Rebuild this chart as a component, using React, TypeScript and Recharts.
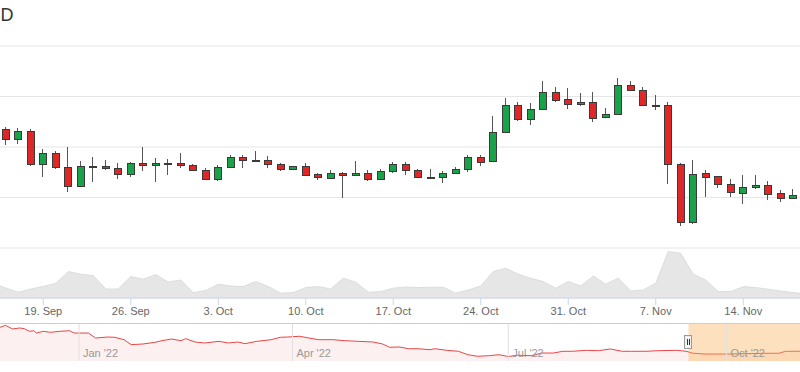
import React from 'react'
import { ComposedChart, Bar, Area, XAxis, YAxis, CartesianGrid, ReferenceLine, ReferenceArea } from 'recharts'

// daily candles, 15 Sep 2022 .. 19 Nov 2022
const firstDay = '2022-09-15'
const open = [1638, 1470, 1430, 1464, 1331, 1376, 1320, 1245, 1325, 1325, 1317, 1294, 1335, 1328, 1335, 1337,
  1329, 1310, 1274, 1320, 1360, 1350, 1350, 1331, 1313, 1324, 1292, 1279, 1298, 1288, 1296, 1274, 1304,
  1331, 1310, 1282, 1282, 1297, 1312, 1360, 1343, 1458, 1566, 1512, 1549, 1617, 1589,
  1569, 1577, 1518, 1529, 1644, 1625, 1565, 1565, 1331, 1104, 1296, 1284, 1253, 1219, 1242, 1249, 1217, 1197, 1210]
const high = [1648, 1479, 1474, 1470, 1392, 1383, 1401, 1343, 1359, 1348, 1335, 1339, 1401, 1355, 1351, 1375,
  1334, 1318, 1330, 1367, 1368, 1385, 1363, 1335, 1326, 1335, 1298, 1309, 1301, 1344, 1309, 1314, 1339,
  1339, 1314, 1312, 1306, 1321, 1370, 1370, 1523, 1594, 1577, 1574, 1663, 1636, 1632,
  1613, 1619, 1554, 1672, 1663, 1636, 1607, 1577, 1335, 1348, 1309, 1286, 1273, 1288, 1288, 1265, 1230, 1234, 1226]
const low = [1459, 1408, 1412, 1326, 1282, 1314, 1223, 1242, 1263, 1309, 1272, 1282, 1305, 1260, 1289, 1316,
  1305, 1272, 1267, 1320, 1318, 1349, 1318, 1305, 1309, 1290, 1269, 1279, 1199, 1288, 1267, 1274, 1298,
  1289, 1282, 1274, 1256, 1297, 1302, 1326, 1339, 1458, 1504, 1487, 1549, 1577, 1549,
  1564, 1500, 1518, 1529, 1621, 1565, 1546, 1252, 1087, 1095, 1203, 1236, 1203, 1174, 1234, 1190, 1183, 1197, 1200]
const close = [1472, 1432, 1464, 1331, 1376, 1320, 1245, 1325, 1326, 1316, 1293, 1335, 1328, 1335, 1335, 1328,
  1309, 1274, 1322, 1362, 1348, 1350, 1331, 1313, 1324, 1290, 1280, 1296, 1288, 1296, 1274, 1306, 1333,
  1310, 1282, 1282, 1298, 1313, 1362, 1342, 1458, 1566, 1512, 1550, 1618, 1586, 1569,
  1577, 1516, 1530, 1644, 1625, 1565, 1565, 1331, 1104, 1293, 1282, 1253, 1220, 1243, 1251, 1215, 1198, 1210, 1218]
// traded volume, billions USD
const volume = [7.3, 5.0, 2.9, 4.5, 5.8, 7.3, 13.2, 11.9, 11.2, 4.5, 4.5, 10.7, 9.4, 11.7, 8.0, 9.0,
  2.7, 3.7, 6.9, 6.0, 5.7, 8.2, 5.7, 2.4, 2.7, 5.2, 5.7, 4.5, 9.9, 7.9, 2.9, 3.2, 4.9,
  5.5, 5.2, 5.4, 5.4, 2.4, 4.0, 6.0, 13.2, 14.9, 11.9, 9.9, 8.2, 4.9, 8.2,
  6.0, 11.0, 6.9, 9.9, 3.5, 4.0, 7.4, 23.2, 22.4, 11.9, 9.0, 3.2, 3.2, 5.7, 5.2, 4.4, 3.5, 2.7, 2.0]
const weekTicks = ['2022-09-19', '2022-09-26', '2022-10-03', '2022-10-10', '2022-10-17', '2022-10-24',
  '2022-10-31', '2022-11-07', '2022-11-14']
const priceTicks = [1000, 1200, 1400, 1600, 1800]

// navigator: close over the whole year
const navDates = ['2021-11-28', '2021-12-01', '2021-12-04', '2021-12-07', '2021-12-09', '2021-12-11', '2021-12-13',
  '2021-12-14', '2021-12-17', '2021-12-20', '2021-12-24', '2021-12-28', '2021-12-30', '2022-01-01', '2022-01-05',
  '2022-01-08', '2022-01-13', '2022-01-16', '2022-01-20', '2022-01-23', '2022-01-28', '2022-02-02', '2022-02-05',
  '2022-02-09', '2022-02-13', '2022-02-15', '2022-02-19', '2022-02-23', '2022-03-01', '2022-03-05', '2022-03-09',
  '2022-03-12', '2022-03-17', '2022-03-23', '2022-03-27', '2022-03-30', '2022-04-04', '2022-04-08', '2022-04-12',
  '2022-04-18', '2022-04-23', '2022-04-29', '2022-05-05', '2022-05-09', '2022-05-12', '2022-05-16', '2022-05-20',
  '2022-05-24', '2022-05-29', '2022-05-31', '2022-06-05', '2022-06-10', '2022-06-14', '2022-06-18', '2022-06-23',
  '2022-06-27', '2022-07-01', '2022-07-05', '2022-07-11', '2022-07-15', '2022-07-20', '2022-07-24', '2022-07-28',
  '2022-08-03', '2022-08-08', '2022-08-13', '2022-08-18', '2022-08-22', '2022-08-28', '2022-09-02', '2022-09-10',
  '2022-09-14', '2022-09-17', '2022-09-22', '2022-10-01', '2022-10-09', '2022-10-17', '2022-10-23', '2022-10-26',
  '2022-11-01', '2022-11-05', '2022-11-09', '2022-11-14', '2022-11-19']
const navClose = [4400, 4720, 4280, 4400, 4310, 4000, 4070,
  3790, 4000, 3880, 4000, 4070, 3790, 3790, 3790,
  3190, 3310, 3280, 2990, 2390, 2470, 2670, 2870,
  3070, 2870, 3110, 2710, 2590, 2790, 2590, 2710,
  2510, 2790, 2990, 3280, 3310, 3400, 3190, 2990,
  2990, 2870, 2790, 2710, 2470, 2070, 2110, 1900,
  1900, 1780, 1900, 1710, 1590, 1180, 990, 1060,
  1180, 960, 1110, 1060, 1380, 1380, 1590, 1590,
  1710, 1660, 1870, 1590, 1590, 1590, 1660, 1710,
  1590, 1350, 1260, 1260, 1300, 1350, 1350, 1590,
  1590, 1630, 1100, 1240, 1220]
const navMonthDates = ['2022-01-01', '2022-04-01', '2022-07-01', '2022-10-01']
const navMonthLabels = ["Jan '22", "Apr '22", "Jul '22", "Oct '22"]

const MONTHS = ['Jan', 'Feb', 'Mar', 'Apr', 'May', 'Jun', 'Jul', 'Aug', 'Sep', 'Oct', 'Nov', 'Dec']
const DAY = 86400000
const navZero = Date.parse('2022-01-01')
const toDay = (d: string) => (Date.parse(d) - navZero) / DAY

const candles = open.map((o, i) => ({
  date: new Date(Date.parse(firstDay) + i * DAY).toISOString().slice(0, 10),
  open: o,
  high: high[i],
  low: low[i],
  close: close[i],
  volume: volume[i],
}))
const navData = navDates.map((d, i) => ({ t: toDay(d), close: navClose[i] }))

const fmtTick = (d: string) => {
  const dt = new Date(d)
  return `${dt.getUTCDate()}. ${MONTHS[dt.getUTCMonth()]}`
}

function Candle(props: any) {
  const { x, y, width, height, payload } = props
  if (!payload || height == null) return null
  const { open: o, close: c, high: h, low: l } = payload
  const span = h - l || 1
  const yAt = (v: number) => y + ((h - v) / span) * height
  const up = c >= o
  const left = Math.round(x + width / 2 - 4) + 0.5
  const mid = left + 3
  const top = Math.round(yAt(Math.max(o, c))) + 0.5
  const bottom = Math.round(yAt(Math.min(o, c))) + 0.5
  return (
    <g>
      <line x1={mid} x2={mid} y1={Math.round(yAt(h))} y2={Math.round(yAt(l))} stroke="#555" strokeWidth={1} />
      <rect x={left} y={top} width={7} height={Math.max(bottom - top, 1)}
        fill={up ? '#1aa24a' : '#de2828'} stroke="#3a3a3a" strokeWidth={1} />
    </g>
  )
}

export default function App() {
  const selStart = toDay(firstDay)
  return (
    <div style={{
      position: 'absolute', left: 0, top: 0, width: 800, height: 372, overflow: 'hidden', background: '#fff',
      fontFamily: '"Lucida Grande", "Lucida Sans Unicode", Arial, Helvetica, sans-serif',
    }}>
      <svg width={80} height={30} style={{ position: 'absolute', left: 0, top: 0 }}>
        <text x={13.5} y={21} textAnchor="end" fontSize={18} fill="#333333">ETH to USD</text>
      </svg>

      <div style={{ position: 'absolute', left: -13.25, top: 0 }}>
        <ComposedChart width={825} height={330} data={candles} margin={{ top: 46, right: 0, bottom: 0, left: 0 }}>
          <CartesianGrid vertical={false} stroke="#e6e6e6" />
          <XAxis dataKey="date" ticks={weekTicks} interval={0} tickFormatter={fmtTick} height={32}
            tickSize={7} tickMargin={2} axisLine={{ stroke: '#ccd6eb' }} tickLine={{ stroke: '#ccd6eb' }}
            tick={{ fill: '#666666', fontSize: 11 }} />
          <YAxis domain={[802, 1800]} ticks={priceTicks} allowDataOverflow hide />
          <YAxis yAxisId="vol" domain={[0, 126]} allowDataOverflow hide />
          <Area yAxisId="vol" dataKey="volume" type="linear" stroke="#dddddd" strokeWidth={1}
            fill="#e6e6e6" fillOpacity={1} isAnimationActive={false} />
          <Bar dataKey={(d: any) => [d.low, d.high]} barSize={8} shape={(p: any) => <Candle {...p} />}
            isAnimationActive={false} />
        </ComposedChart>
      </div>

      <div style={{ position: 'absolute', left: 0, top: 320 }}>
        <ComposedChart width={800} height={44} data={navData} margin={{ top: 3.5, right: 0, bottom: 3, left: 0 }}>
          <XAxis type="number" dataKey="t" domain={[-33.3, 304]} allowDataOverflow hide />
          <YAxis domain={[420, 4940]} allowDataOverflow hide />
          {navMonthDates.map((d, i) => (
            <ReferenceLine key={d} x={toDay(d)} stroke="#e0e0e0"
              label={{ value: navMonthLabels[i], position: 'insideBottomLeft', offset: 4, fill: '#999999', fontSize: 11 }} />
          ))}
          <Area dataKey="close" type="linear" stroke="#e84545" strokeWidth={1} fill="#e84545" fillOpacity={0.08}
            isAnimationActive={false} />
          <ReferenceArea x1={selStart} x2={304} fill="#fbb55c" fillOpacity={0.4} stroke="none" />
          <ReferenceLine y={4940} stroke="#cccccc" />
        </ComposedChart>
      </div>

      <svg width={12} height={18} style={{ position: 'absolute', left: 682, top: 333 }}>
        <rect x={2.5} y={2.5} width={7} height={13} fill="#f2f2f2" stroke="#999999" />
        <line x1={5.5} x2={5.5} y1={6} y2={12} stroke="#333" />
        <line x1={7.5} x2={7.5} y1={6} y2={12} stroke="#333" />
      </svg>
    </div>
  )
}
